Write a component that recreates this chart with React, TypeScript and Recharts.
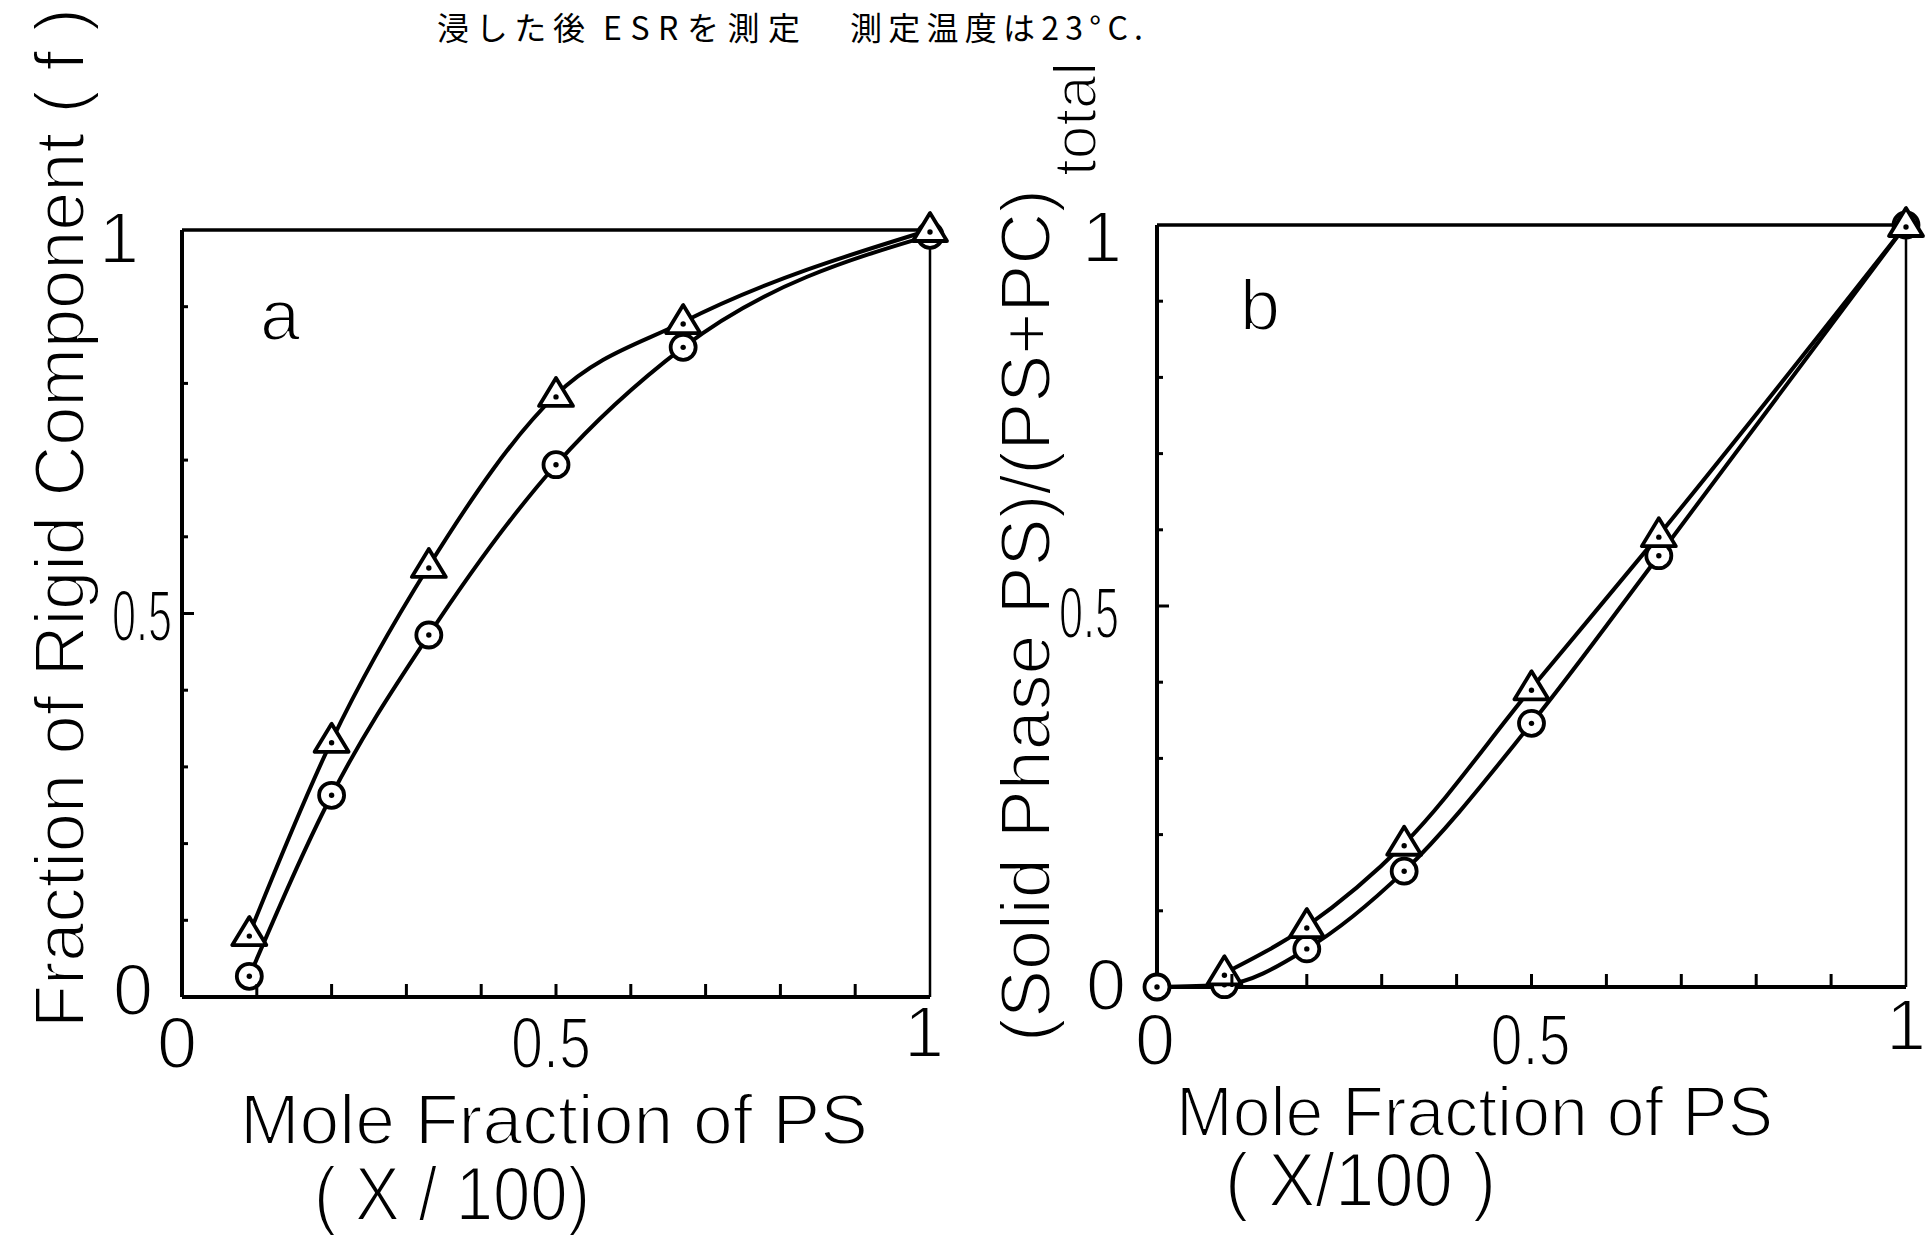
import React from 'react';
import { LineChart, Line, XAxis, YAxis, ReferenceLine } from 'recharts';

const FONT = "'Liberation Sans', Arial, sans-serif";
const JP_FONT = "'Noto Sans CJK JP', sans-serif";
const INK = '#000';
// thin lettering: a white outline painted over the fill slims the strokes
const THIN = { stroke: '#fff', strokeWidth: 2 };

// Panel a: fraction of rigid component vs. mole fraction of PS
const moleFractionA = [0.09, 0.2, 0.33, 0.5, 0.67, 1.0];
const rigidCircleA = [0.027, 0.263, 0.472, 0.694, 0.847, 0.993];
const rigidTriangleA = [0.082, 0.334, 0.562, 0.785, 0.88, 1.0];

// Panel b: (solid phase PS)/(PS+PC) total vs. mole fraction of PS
const moleFractionCircleB = [0, 0.09, 0.2, 0.33, 0.5, 0.67, 1.0];
const solidCircleB = [0, 0.003, 0.05, 0.152, 0.346, 0.566, 1.0];
const moleFractionTriangleB = [0.09, 0.2, 0.33, 0.5, 0.67, 1.0];
const solidTriangleB = [0.018, 0.08, 0.188, 0.392, 0.593, 1.0];

// Axis ticks
const tickValues = [0, 0.1, 0.2, 0.3, 0.4, 0.5, 0.6, 0.7, 0.8, 0.9, 1];
const labeledTickValues = [0, 0.5, 1];
const labeledTickText = ['0', '0.5', '1'];

const toPoints = (xs: number[], ys: number[]) => xs.map((x, i) => ({ x, y: ys[i] }));

const circleA = toPoints(moleFractionA, rigidCircleA);
const triangleA = toPoints(moleFractionA, rigidTriangleA);
const circleB = toPoints(moleFractionCircleB, solidCircleB);
const triangleB = toPoints(moleFractionTriangleB, solidTriangleB);

// per-label placement: [dx, dy, width or 0]
type Offsets = Record<string, [number, number, number]>;

const labelFor = (v: number) => {
  const i = labeledTickValues.indexOf(v);
  return i >= 0 ? labeledTickText[i] : null;
};

const TickText = ({ x, y, text, w }: { x: number; y: number; text: string; w: number }) => (
  <text
    x={x}
    y={y}
    textAnchor="middle"
    fontFamily={FONT}
    fontSize={72}
    fill={INK}
    {...THIN}
    {...(w ? { textLength: w, lengthAdjust: 'spacingAndGlyphs' } : {})}
  >
    {text}
  </text>
);

const makeXTick = (offsets: Offsets) => (props: any) => {
  const { x, y, payload } = props;
  const v = payload.value;
  const text = labelFor(v);
  const inner = v > 0 && v < 1;
  const off = offsets[String(v)] || [0, 70, 0];
  return (
    <g>
      {inner && <line x1={x} y1={y} x2={x} y2={y - 13} stroke={INK} strokeWidth={3} />}
      {text && <TickText x={x + off[0]} y={y + off[1]} text={text} w={off[2]} />}
    </g>
  );
};

const makeYTick = (offsets: Offsets) => (props: any) => {
  const { x, y, payload } = props;
  const v = payload.value;
  const text = labelFor(v);
  const inner = v > 0 && v < 1;
  const len = v === 0.5 ? 12 : 6;
  const off = offsets[String(v)] || [-50, 25, 0];
  return (
    <g>
      {inner && <line x1={x} y1={y} x2={x + len} y2={y} stroke={INK} strokeWidth={3} />}
      {text && <TickText x={x + off[0]} y={y + off[1]} text={text} w={off[2]} />}
    </g>
  );
};

const CircleDot = (p: any) => {
  if (p.cx == null || p.cy == null) return <g key={`c-${p.index}`} />;
  return (
    <g key={`c-${p.index}`}>
      <circle cx={p.cx} cy={p.cy} r={12.5} fill="#fff" stroke={INK} strokeWidth={3.8} />
      <circle cx={p.cx} cy={p.cy} r={2.7} fill={INK} />
    </g>
  );
};

const TriangleDot = (p: any) => {
  if (p.cx == null || p.cy == null) return <g key={`t-${p.index}`} />;
  const { cx, cy } = p;
  const pts = `${cx},${cy - 17} ${cx - 17},${cy + 11} ${cx + 17},${cy + 11}`;
  return (
    <g key={`t-${p.index}`}>
      <polygon points={pts} fill="#fff" stroke={INK} strokeWidth={3.8} strokeLinejoin="round" />
      <circle cx={cx} cy={cy + 2} r={2.7} fill={INK} />
    </g>
  );
};

type PanelProps = {
  left: number;
  width: number;
  margin: { top: number; right: number; bottom: number; left: number };
  circles: { x: number; y: number }[];
  triangles: { x: number; y: number }[];
  xOffsets: Offsets;
  yOffsets: Offsets;
};

const Panel = ({ left, width, margin, circles, triangles, xOffsets, yOffsets }: PanelProps) => (
  <div style={{ position: 'absolute', left, top: 0 }}>
    <LineChart width={width} height={1237} margin={margin}>
      <XAxis
        type="number"
        dataKey="x"
        domain={[0, 1]}
        ticks={tickValues}
        interval={0}
        height={60}
        tickSize={0}
        tickMargin={0}
        tickLine={false}
        axisLine={{ stroke: INK, strokeWidth: 4 }}
        tick={makeXTick(xOffsets)}
      />
      <YAxis
        type="number"
        domain={[0, 1]}
        ticks={tickValues}
        interval={0}
        width={60}
        tickSize={0}
        tickMargin={0}
        tickLine={false}
        axisLine={{ stroke: INK, strokeWidth: 4 }}
        tick={makeYTick(yOffsets)}
      />
      <ReferenceLine y={1} stroke={INK} strokeWidth={3.5} />
      <ReferenceLine x={1} stroke={INK} strokeWidth={2.5} />
      <Line
        data={circles}
        dataKey="y"
        type="monotone"
        stroke={INK}
        strokeWidth={4}
        dot={CircleDot}
        activeDot={false}
        isAnimationActive={false}
      />
      <Line
        data={triangles}
        dataKey="y"
        type="monotone"
        stroke={INK}
        strokeWidth={4}
        dot={TriangleDot}
        activeDot={false}
        isAnimationActive={false}
      />
    </LineChart>
  </div>
);

export default function App() {
  return (
    <div
      style={{
        position: 'absolute',
        left: 0,
        top: 0,
        width: 1931,
        height: 1237,
        background: '#fff',
        overflow: 'hidden',
      }}
    >
      <Panel
        left={0}
        width={965}
        margin={{ top: 230, right: 35, bottom: 180, left: 122 }}
        circles={circleA}
        triangles={triangleA}
        xOffsets={{ '0': [-5, 71, 0], '0.5': [-5, 71, 80], '1': [-6, 60, 0] }}
        yOffsets={{ '0': [-49, 18, 0], '0.5': [-40, 27, 60], '1': [-63, 33, 0] }}
      />
      <Panel
        left={965}
        width={966}
        margin={{ top: 225, right: 25, bottom: 190, left: 132 }}
        circles={circleB}
        triangles={triangleB}
        xOffsets={{ '0': [-2, 78, 0], '0.5': [-1, 78, 80], '1': [0, 63, 0] }}
        yOffsets={{ '0': [-51, 23, 0], '0.5': [-68, 32, 60], '1': [-55, 37, 0] }}
      />
      <svg
        width={1931}
        height={1237}
        style={{ position: 'absolute', left: 0, top: 0, pointerEvents: 'none' }}
      >
        {/* measurement conditions */}
        <g fontFamily={JP_FONT} fontSize={32} fill={INK}>
          <text x={437} y={40} textLength={148} lengthAdjust="spacing">浸した後</text>
          <text x={603} y={40} textLength={197} lengthAdjust="spacing">ESRを測定</text>
          <text x={850} y={40} textLength={293} lengthAdjust="spacing">測定温度は23°C.</text>
        </g>

        <g fontFamily={FONT} fill={INK} {...THIN}>
          {/* panel a titles */}
          <text
            x={84}
            y={1028}
            transform="rotate(-90 84 1028)"
            fontSize={70}
            textLength={1020}
            lengthAdjust="spacingAndGlyphs"
          >
            Fraction of Rigid Component ( f )
          </text>
          <text x={280} y={340} textAnchor="middle" fontSize={72}>a</text>
          <text x={240} y={1144} fontSize={70} textLength={628} lengthAdjust="spacingAndGlyphs">
            Mole Fraction of PS
          </text>
          <text x={314} y={1220} fontSize={76} textLength={276} lengthAdjust="spacingAndGlyphs">
            ( X / 100)
          </text>

          {/* panel b titles */}
          <text
            x={1050}
            y={1042}
            transform="rotate(-90 1050 1042)"
            fontSize={70}
            textLength={853}
            lengthAdjust="spacingAndGlyphs"
          >
            (Solid Phase PS)/(PS+PC)
          </text>
          <text
            x={1096}
            y={176}
            transform="rotate(-90 1096 176)"
            fontSize={62}
            textLength={114}
            lengthAdjust="spacingAndGlyphs"
          >
            total
          </text>
          <text x={1260} y={330} textAnchor="middle" fontSize={72}>b</text>
          <text x={1176} y={1136} fontSize={70} textLength={597} lengthAdjust="spacingAndGlyphs">
            Mole Fraction of PS
          </text>
          <text x={1225} y={1206} fontSize={76} textLength={271} lengthAdjust="spacingAndGlyphs">
            ( X/100 )
          </text>
        </g>
      </svg>
    </div>
  );
}
